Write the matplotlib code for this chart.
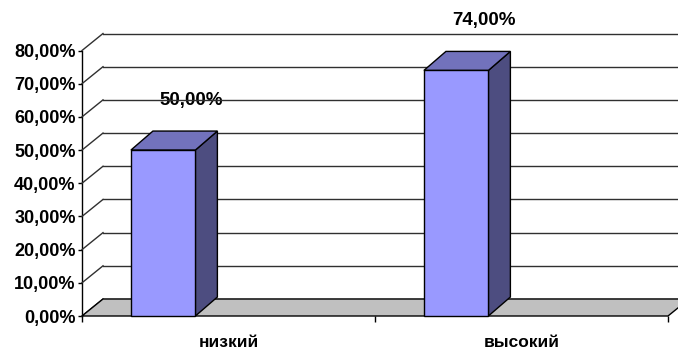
import matplotlib
matplotlib.use("Agg")
import matplotlib.pyplot as plt
from matplotlib.patches import Polygon
from matplotlib.transforms import IdentityTransform
import numpy as np

categories = ["низкий", "высокий"]
values = [50.0, 74.0]
yticks = [0, 10, 20, 30, 40, 50, 60, 70, 80]

plt.rcParams['font.family'] = ['Liberation Sans', 'DejaVu Sans']
plt.rcParams['font.weight'] = 'bold'

W, H, DPI = 678, 350, 100
fig = plt.figure(figsize=(W / DPI, H / DPI), dpi=DPI)
left, right, bottom, top = 82, 668, 316, 50.5
ax = fig.add_axes([left / W, (H - bottom) / H, (right - left) / W, (bottom - top) / H])
ax.set_xlim(0, len(categories))
ax.set_ylim(0, 80)
ax.patch.set_visible(False)
for s in ['top', 'right', 'bottom']:
    ax.spines[s].set_visible(False)
ax.spines['left'].set_color('black')
ax.spines['left'].set_linewidth(1)
ax.spines['left'].set_zorder(1)

WALL = np.array([21.0, 17.0])   # depth offset, pixels (x right, y up)
BAR = np.array([22.0, 19.0])

def disp(x, y, off=None):
    p = ax.transData.transform((x, y))
    if off is not None:
        p = p + off
    return p

# back wall gridlines and left wall diagonals
for v in yticks:
    a = disp(0, v, WALL)
    b = disp(len(categories) + 0.2, v, WALL)
    fig.add_artist(plt.Line2D([a[0], b[0]], [a[1], b[1]], transform=IdentityTransform(),
                              color='#303030', lw=1.0, zorder=1))
    f = disp(0, v)
    fig.add_artist(plt.Line2D([f[0], a[0]], [f[1], a[1]], transform=IdentityTransform(),
                              color='#303030', lw=1.0, zorder=1))

# floor
floor = [disp(0, 0), disp(len(categories), 0), disp(len(categories), 0, WALL), disp(0, 0, WALL)]
fig.add_artist(Polygon(floor, closed=True, transform=IdentityTransform(),
                       facecolor='#C0C0C0', edgecolor='black', lw=1.0, zorder=2))

# bars
bw = 0.22
shift = -0.333
for i, v in enumerate(values):
    x0 = i + 0.5 + shift
    x1 = x0 + bw
    side = [disp(x1, 0), disp(x1, v), disp(x1, v, BAR), disp(x1, 0, BAR)]
    topf = [disp(x0, v), disp(x1, v), disp(x1, v, BAR), disp(x0, v, BAR)]
    fig.add_artist(Polygon(side, closed=True, transform=IdentityTransform(),
                           facecolor='#4D4D80', edgecolor='black', lw=1.0, zorder=3))
    fig.add_artist(Polygon(topf, closed=True, transform=IdentityTransform(),
                           facecolor='#7272BC', edgecolor='black', lw=1.0, zorder=3))
    front = [disp(x0, 0), disp(x1, 0), disp(x1, v), disp(x0, v)]
    fig.add_artist(Polygon(front, closed=True, transform=IdentityTransform(),
                           facecolor='#9999FF', edgecolor='black', lw=1.0, zorder=4))
    ax.annotate(f"{v:.2f}".replace('.', ',') + "%", xy=((x0 + x1) / 2, v),
                xytext=(20, 36), textcoords='offset points', ha='center', va='center',
                fontsize=13.5, fontweight='bold', annotation_clip=False, zorder=6)

# axes ticks
ax.set_yticks(yticks)
ax.set_yticklabels([f"{t:.2f}".replace('.', ',') + "%" for t in yticks])
ax.tick_params(axis='y', length=3, width=1, pad=1.5, labelsize=13, direction='out')
ax.set_xticks([0, 1, 2])
ax.set_xticklabels(['', '', ''])
ax.set_xticks([i + 0.5 for i in range(len(categories))], minor=True)
ax.set_xticklabels(categories, minor=True)
ax.tick_params(axis='x', which='major', length=4, width=1, direction='out')
ax.tick_params(axis='x', which='minor', length=0, pad=14, labelsize=12.5)
for lab in ax.get_yticklabels() + ax.get_xticklabels(minor=True):
    lab.set_fontweight('bold')

fig.savefig("out.png", dpi=DPI)
